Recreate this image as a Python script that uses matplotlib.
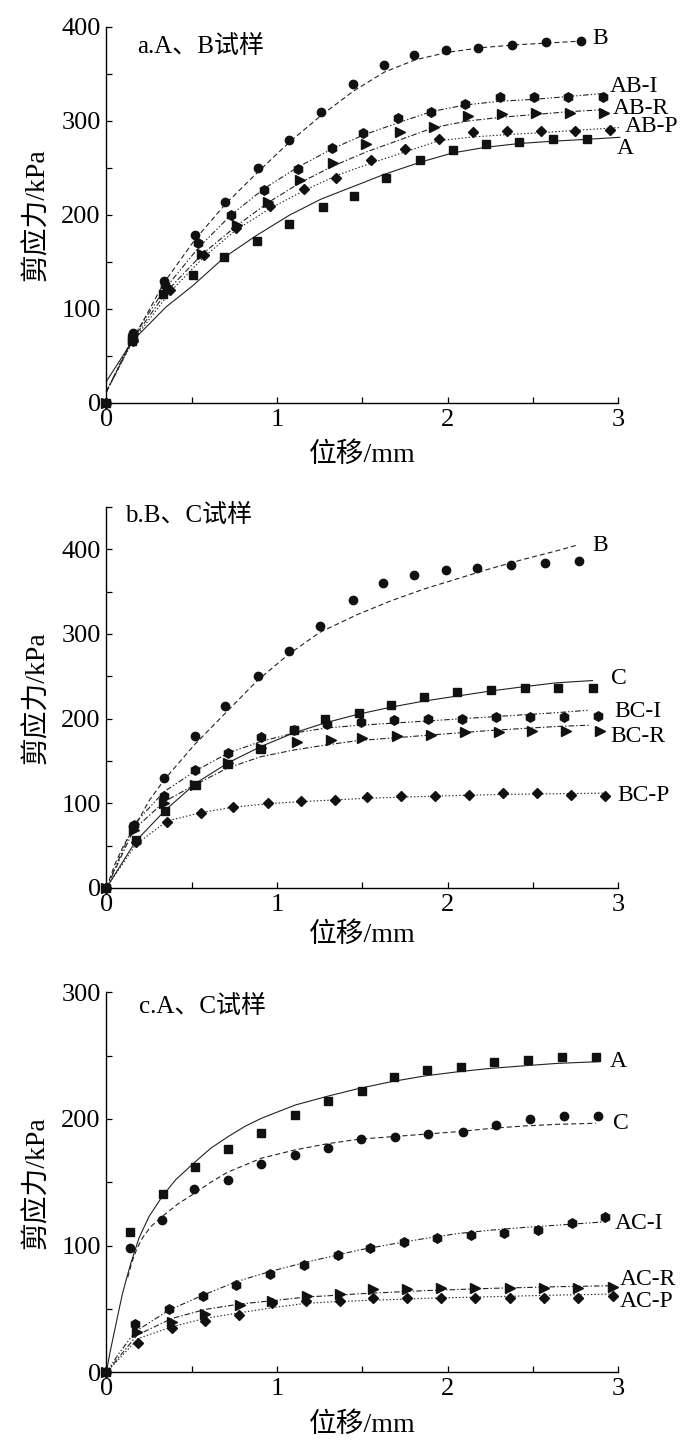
"""
Shear stress vs displacement for the A/B/C specimens and their interfaces (three panels).
"""

import matplotlib
matplotlib.use("Agg")
import matplotlib.pyplot as plt
from matplotlib.ticker import MultipleLocator

plt.rcParams['font.family'] = ['Liberation Serif', 'Noto Sans CJK SC']
plt.rcParams['lines.scale_dashes'] = False

# ---- panel a: A, B specimens ----
a_B_x = [0, 0.155, 0.338, 0.52, 0.696, 0.89, 1.072, 1.258, 1.447, 1.626, 1.806, 1.993, 2.18, 2.38, 2.578, 2.78]
a_B_y = [0, 74, 130, 179, 214, 250, 280, 310, 339, 360, 370, 375, 378, 381, 384, 385]
a_B_fit_x = [0, 0.155, 0.338, 0.52, 0.7, 0.89, 1.07, 1.26, 1.45, 1.63, 1.81, 2.0, 2.2, 2.4, 2.6, 2.78]
a_B_fit_y = [12, 67, 128, 174, 212, 246, 277, 306, 332, 352, 365, 373, 378, 381, 383, 385]

a_ABI_x = [0, 0.155, 0.345, 0.539, 0.731, 0.924, 1.124, 1.32, 1.506, 1.71, 1.905, 2.104, 2.307, 2.505, 2.708, 2.91]
a_ABI_y = [0, 72, 125, 170, 200, 227, 249, 271, 287, 303, 310, 318, 325, 325, 325, 325]
a_ABI_fit_x = [0, 0.155, 0.345, 0.539, 0.731, 0.924, 1.124, 1.32, 1.506, 1.71, 1.905, 2.104, 2.307, 2.505, 2.708, 2.93]
a_ABI_fit_y = [12, 70, 122, 165, 200, 228, 251, 270, 285, 298, 310, 317, 321, 323, 326, 329.5]

a_ABR_x = [0, 0.155, 0.36, 0.56, 0.767, 0.947, 1.133, 1.328, 1.523, 1.722, 1.92, 2.12, 2.32, 2.52, 2.72, 2.92]
a_ABR_y = [0, 68, 121, 158, 189, 214, 237, 255, 275, 288, 294, 305, 307, 308, 308, 308]
a_ABR_fit_x = [0, 0.155, 0.36, 0.56, 0.767, 0.947, 1.133, 1.328, 1.523, 1.722, 1.92, 2.12, 2.32, 2.52, 2.72, 2.92]
a_ABR_fit_y = [12, 68, 120, 158, 189, 213, 234, 252, 267, 280, 293, 300, 304, 307, 310, 312]

a_ABP_x = [0, 0.155, 0.373, 0.57, 0.76, 0.96, 1.159, 1.349, 1.55, 1.75, 1.95, 2.15, 2.35, 2.55, 2.75, 2.955]
a_ABP_y = [0, 66, 120, 157, 186, 209, 228, 239, 258, 270, 281, 288, 289, 289, 289, 290]
a_ABP_fit_x = [0, 0.155, 0.373, 0.57, 0.76, 0.96, 1.159, 1.349, 1.55, 1.75, 1.95, 2.15, 2.35, 2.55, 2.75, 3.01]
a_ABP_fit_y = [12, 66, 118, 155, 184, 207, 226, 242, 255, 267, 279, 283, 285.5, 287.5, 290, 293]

a_A_x = [0, 0.153, 0.329, 0.508, 0.692, 0.884, 1.07, 1.267, 1.45, 1.638, 1.838, 2.03, 2.224, 2.42, 2.62, 2.82]
a_A_y = [0, 66, 116, 136, 155, 172, 190, 208, 220, 239, 258, 269, 275, 278, 281, 281]
a_A_fit_x = [0, 0.153, 0.349, 0.508, 0.692, 0.878, 1.075, 1.26, 1.486, 1.626, 1.838, 2.03, 2.224, 2.42, 2.62, 2.82, 3.01]
a_A_fit_y = [23, 66, 102, 125, 155, 178, 200, 217, 233, 243, 256, 266, 272, 276, 278.5, 280.5, 282.6]

# ---- panel b: B, C specimens ----
b_B_x = [0, 0.158, 0.338, 0.518, 0.698, 0.887, 1.07, 1.254, 1.443, 1.62, 1.805, 1.99, 2.175, 2.373, 2.574, 2.768]
b_B_y = [0, 73, 130, 180, 215, 250, 280, 310, 340, 360, 370, 375, 378, 382, 384, 386]
b_B_fit_x = [0, 0.05, 0.1, 0.16, 0.25, 0.34, 0.52, 0.70, 0.885, 1.068, 1.252, 1.472, 1.666, 1.86, 2.054, 2.248, 2.442, 2.636, 2.76]
b_B_fit_y = [0, 28, 50, 70, 103, 128, 170, 207, 245, 276, 302, 323, 339, 353, 365, 377, 388, 398, 405]

b_C_x = [0, 0.171, 0.346, 0.526, 0.715, 0.905, 1.097, 1.282, 1.482, 1.666, 1.86, 2.054, 2.254, 2.452, 2.65, 2.85]
b_C_y = [0, 57, 91, 122, 146, 164, 186, 200, 207, 216, 226, 232, 234, 236, 236, 236]
b_C_fit_x = [0, 0.171, 0.346, 0.526, 0.715, 0.905, 1.097, 1.282, 1.472, 1.666, 1.86, 2.054, 2.248, 2.442, 2.636, 2.85]
b_C_fit_y = [0, 55, 92, 124, 148, 167, 183, 195, 205, 213.5, 220.7, 226.6, 232.5, 237.6, 242.3, 245]

b_BCI_x = [0, 0.161, 0.34, 0.52, 0.715, 0.905, 1.1, 1.293, 1.491, 1.685, 1.883, 2.083, 2.283, 2.481, 2.68, 2.883]
b_BCI_y = [0, 74, 109, 139, 159, 178, 187, 194, 196, 198, 199, 200, 201.5, 201.5, 201.5, 203.5]
b_BCI_fit_x = [0, 0.161, 0.34, 0.52, 0.715, 0.905, 1.1, 1.293, 1.472, 1.86, 2.248, 2.636, 2.83]
b_BCI_fit_y = [0, 75, 114, 138, 159.5, 173, 183, 189, 192, 197, 202, 207, 210]

b_BCR_x = [0, 0.161, 0.34, 0.52, 0.71, 0.905, 1.115, 1.317, 1.5, 1.705, 1.903, 2.103, 2.303, 2.497, 2.695, 2.895]
b_BCR_y = [0, 68, 100, 122, 148, 165, 172, 175, 177, 179, 181, 184, 184, 185, 185, 185]
b_BCR_fit_x = [0, 0.161, 0.34, 0.52, 0.715, 0.905, 1.1, 1.293, 1.472, 1.86, 2.248, 2.636, 2.83]
b_BCR_fit_y = [0, 69, 102, 122, 142, 155, 163, 169, 174, 180, 186, 190.7, 192.3]

b_BCP_x = [0, 0.171, 0.355, 0.555, 0.744, 0.948, 1.142, 1.34, 1.53, 1.73, 1.928, 2.128, 2.326, 2.524, 2.724, 2.924]
b_BCP_y = [0, 54, 78, 89, 96, 100, 103, 104, 107, 109, 109, 110, 112, 112, 110, 109]
b_BCP_fit_x = [0, 0.171, 0.355, 0.555, 0.744, 0.948, 1.142, 1.34, 1.53, 1.93, 2.33, 2.924]
b_BCP_fit_y = [0, 51, 79, 89, 95.5, 99.5, 102, 104, 106, 108.5, 110.5, 112]

# ---- panel c: A, C specimens ----
c_A_x = [0, 0.138, 0.331, 0.519, 0.713, 0.908, 1.107, 1.298, 1.497, 1.686, 1.877, 2.078, 2.273, 2.472, 2.671, 2.868]
c_A_y = [0, 111, 141, 162, 176, 189, 203, 214, 222, 233, 239, 241, 245, 246.5, 248.6, 248.6]
c_A_fit_x = [0, 0.02, 0.045, 0.07, 0.094, 0.12, 0.143, 0.191, 0.25, 0.328, 0.406, 0.519, 0.613, 0.713, 0.81,
             0.908, 1.107, 1.298, 1.478, 1.673, 1.868, 2.063, 2.258, 2.452, 2.647, 2.881]
c_A_fit_y = [0, 15, 31, 47, 62, 75, 86, 106, 123, 139, 152, 166, 177, 186, 194,
             200.5, 211, 218, 224, 229.5, 234, 237.3, 240, 242, 243.9, 245.2]

c_C_x = [0, 0.138, 0.327, 0.513, 0.711, 0.908, 1.103, 1.298, 1.494, 1.692, 1.887, 2.088, 2.286, 2.482, 2.683, 2.881]
c_C_y = [0, 98, 120, 145, 152, 164.5, 171.6, 177, 184, 186, 188, 190, 195, 200, 202, 202]
c_C_fit_x = [0.125, 0.152, 0.18, 0.211, 0.26, 0.327, 0.42, 0.513, 0.611, 0.711, 0.908, 1.103, 1.298, 1.478, 1.673,
             1.868, 2.063, 2.258, 2.452, 2.647, 2.871]
c_C_fit_y = [75, 88, 98, 106, 115, 123, 133, 141, 150, 158, 169, 175.5, 180.5, 184, 186,
             188, 190, 192.6, 194.5, 195.8, 196.6]

c_ACI_x = [0, 0.168, 0.366, 0.567, 0.762, 0.957, 1.16, 1.355, 1.546, 1.745, 1.94, 2.137, 2.332, 2.531, 2.73, 2.925]
c_ACI_y = [0, 38, 50, 60, 69, 78, 85, 93, 98, 103, 105.7, 108.3, 110.2, 112.3, 117.5, 122.8]
c_ACI_fit_x = [0, 0.074, 0.168, 0.366, 0.567, 0.762, 0.957, 1.16, 1.355, 1.478, 1.673, 1.868, 2.063, 2.258, 2.452, 2.647, 2.92]
c_ACI_fit_y = [0, 15, 32, 49, 61, 71.6, 79.5, 86.6, 92.6, 96.5, 101.2, 105.7, 109.6, 112.3, 114.4, 116.2, 118.8]

c_ACR_x = [0, 0.181, 0.386, 0.581, 0.786, 0.971, 1.175, 1.37, 1.564, 1.765, 1.964, 2.163, 2.364, 2.565, 2.764, 2.969]
c_ACR_y = [0, 32, 40, 46, 53, 56, 60, 62, 65.5, 65.5, 66.8, 66.8, 66.8, 66.8, 66.8, 67.6]
c_ACR_fit_x = [0, 0.181, 0.386, 0.581, 0.786, 0.971, 1.175, 1.37, 1.478, 1.868, 2.258, 2.647, 2.978]
c_ACR_fit_y = [0, 29.5, 42.6, 49.7, 54, 56.5, 59.5, 61, 62, 64.5, 66.3, 67.6, 68.4]

c_ACP_x = [0, 0.187, 0.386, 0.577, 0.78, 0.971, 1.17, 1.37, 1.564, 1.765, 1.964, 2.163, 2.364, 2.565, 2.764, 2.969]
c_ACP_y = [0, 23.4, 34.7, 40.5, 45, 54.5, 56.6, 56.6, 58.4, 58.4, 58.4, 58.4, 58.4, 58.4, 58.4, 60.2]
c_ACP_fit_x = [0, 0.187, 0.386, 0.577, 0.78, 0.971, 1.17, 1.37, 1.478, 1.868, 2.258, 2.647, 2.978]
c_ACP_fit_y = [0, 26.8, 36, 42.6, 47, 51, 54.5, 56, 56.5, 58.4, 59.7, 61, 61.8]

# line styles (on/off in points)
SOLID = None
DASHED = (3.6, 2.2)
DASH_DOT = (4, 1.5, 1, 1.5)
DASH_DOT_DOT = (4, 1.5, 1, 1.5, 1, 1.5)
DOTTED = (1, 1.5)

MARKERS = {'o': 6, 's': 5.5, 'h': 6.8, '>': 6.5, 'D': 5.5}

TICK_FONT = 19
LABEL_FONT = 20
NOTE_FONT = 17


def draw(ax, x, y, fx, fy, marker, dashes):
    ax.plot(x, y, linestyle='none', marker=marker, ms=MARKERS[marker],
            color='#111111', clip_on=False, zorder=3)
    line, = ax.plot(fx, fy, color='#222222', lw=0.8, clip_on=False, zorder=2)
    if dashes is not None:
        line.set_dashes(dashes)


def style_axes(ax, ytop, xlabel_y):
    ax.set_xlim(0, 3)
    ax.set_ylim(0, ytop)
    for side in ('top', 'right'):
        ax.spines[side].set_visible(False)
    for side in ('left', 'bottom'):
        ax.spines[side].set_linewidth(1.0)
    ax.xaxis.set_major_locator(MultipleLocator(1))
    ax.xaxis.set_minor_locator(MultipleLocator(0.5))
    ax.yaxis.set_major_locator(MultipleLocator(100))
    ax.yaxis.set_minor_locator(MultipleLocator(50))
    ax.tick_params(which='both', direction='in', length=4, width=0.9)
    ax.tick_params(which='major', labelsize=TICK_FONT, pad=4)
    ax.set_xlabel('位移/mm', fontsize=LABEL_FONT)
    ax.set_ylabel('剪应力/kPa', fontsize=LABEL_FONT)
    ax.xaxis.set_label_coords(0.5, xlabel_y)
    ax.yaxis.set_label_coords(-0.11, 0.5)


def main():
    fig = plt.figure(figsize=(7, 14.49), dpi=100)
    left, width = 0.152, 0.731
    ax_a = fig.add_axes([left, 0.7219, width, 0.9814 - 0.7219])
    ax_b = fig.add_axes([left, 0.3872, width, 0.6501 - 0.3872])
    ax_c = fig.add_axes([left, 0.0529, width, 0.3152 - 0.0529])

    # panel a
    draw(ax_a, a_B_x, a_B_y, a_B_fit_x, a_B_fit_y, 'o', DASHED)
    draw(ax_a, a_ABI_x, a_ABI_y, a_ABI_fit_x, a_ABI_fit_y, 'h', DASH_DOT_DOT)
    draw(ax_a, a_ABR_x, a_ABR_y, a_ABR_fit_x, a_ABR_fit_y, '>', DASH_DOT)
    draw(ax_a, a_ABP_x, a_ABP_y, a_ABP_fit_x, a_ABP_fit_y, 'D', DOTTED)
    draw(ax_a, a_A_x, a_A_y, a_A_fit_x, a_A_fit_y, 's', SOLID)
    style_axes(ax_a, 400, -0.105)
    ax_a.text(0.183, 379, 'a.A、B试样', fontsize=18, va='center')
    for lbl, lx, ly in [('B', 2.85, 388), ('AB-I', 2.95, 337), ('AB-R', 2.967, 313),
                        ('AB-P', 3.04, 294), ('A', 2.99, 271)]:
        ax_a.text(lx, ly, lbl, fontsize=NOTE_FONT, va='center', ha='left', clip_on=False)

    # panel b
    draw(ax_b, b_B_x, b_B_y, b_B_fit_x, b_B_fit_y, 'o', DASHED)
    draw(ax_b, b_C_x, b_C_y, b_C_fit_x, b_C_fit_y, 's', SOLID)
    draw(ax_b, b_BCI_x, b_BCI_y, b_BCI_fit_x, b_BCI_fit_y, 'h', DASH_DOT_DOT)
    draw(ax_b, b_BCR_x, b_BCR_y, b_BCR_fit_x, b_BCR_fit_y, '>', DASH_DOT)
    draw(ax_b, b_BCP_x, b_BCP_y, b_BCP_fit_x, b_BCP_fit_y, 'D', DOTTED)
    style_axes(ax_b, 450, -0.09)
    ax_b.set_yticks([0, 100, 200, 300, 400])
    ax_b.text(0.11, 440, 'b.B、C试样', fontsize=18, va='center')
    for lbl, lx, ly in [('B', 2.85, 405), ('C', 2.957, 247), ('BC-I', 2.976, 208.6),
                        ('BC-R', 2.957, 179), ('BC-P', 2.996, 109)]:
        ax_b.text(lx, ly, lbl, fontsize=NOTE_FONT, va='center', ha='left', clip_on=False)

    # panel c
    draw(ax_c, c_A_x, c_A_y, c_A_fit_x, c_A_fit_y, 's', SOLID)
    draw(ax_c, c_C_x, c_C_y, c_C_fit_x, c_C_fit_y, 'o', DASHED)
    draw(ax_c, c_ACI_x, c_ACI_y, c_ACI_fit_x, c_ACI_fit_y, 'h', DASH_DOT_DOT)
    draw(ax_c, c_ACR_x, c_ACR_y, c_ACR_fit_x, c_ACR_fit_y, '>', DASH_DOT)
    draw(ax_c, c_ACP_x, c_ACP_y, c_ACP_fit_x, c_ACP_fit_y, 'D', DOTTED)
    style_axes(ax_c, 300, -0.105)
    ax_c.text(0.19, 289, 'c.A、C试样', fontsize=18, va='center')
    for lbl, lx, ly in [('A', 2.95, 245), ('C', 2.97, 196.6), ('AC-I', 2.98, 117.6),
                        ('AC-R', 3.01, 72.9), ('AC-P', 3.01, 55.7)]:
        ax_c.text(lx, ly, lbl, fontsize=NOTE_FONT, va='center', ha='left', clip_on=False)

    fig.savefig('out.png', dpi=100)


if __name__ == "__main__":
    main()
